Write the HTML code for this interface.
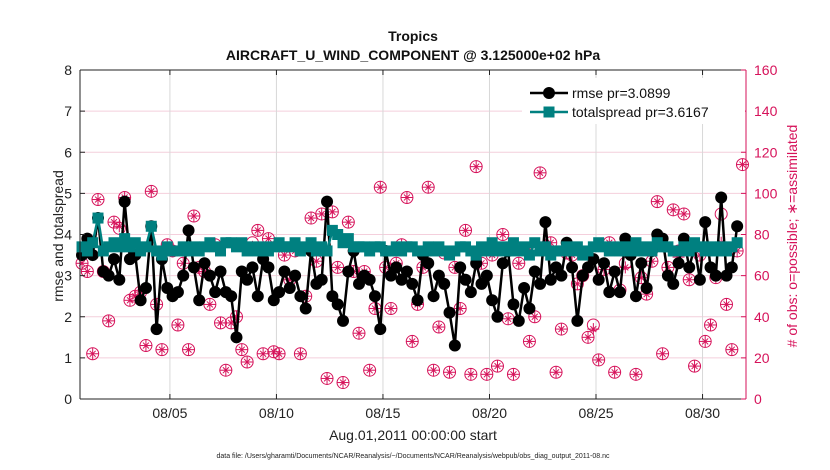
<!DOCTYPE html>
<html><head><meta charset="utf-8">
<style>
body{margin:0;background:#fff;font-family:"Liberation Sans",sans-serif;}
svg{display:block}
</style></head>
<body>
<svg id="chart" width="830" height="470" xmlns="http://www.w3.org/2000/svg"></svg>
<script>
const rmse=[3.5,3.9,3.5,4.4,3.1,3.0,3.4,2.9,4.8,3.4,3.5,2.4,2.7,4.2,1.7,3.4,2.7,2.5,2.6,3.0,4.1,3.2,2.4,3.3,3.0,2.6,3.1,2.6,2.5,1.5,3.1,2.9,3.2,2.5,3.4,3.2,2.4,2.6,3.1,2.7,3.0,2.5,2.2,3.6,2.8,2.9,4.8,2.5,2.3,1.9,3.1,3.6,2.8,3.0,2.9,2.5,1.7,3.6,3.0,3.2,2.9,3.1,2.8,2.4,3.5,3.3,2.5,3.0,2.8,2.1,1.3,3.2,2.9,2.6,3.3,2.8,3.0,2.4,2.0,3.3,3.6,2.3,1.9,2.7,2.2,3.1,2.8,4.3,2.9,3.2,3.0,3.8,3.2,1.9,3.0,3.2,3.4,2.9,3.3,2.6,3.1,2.6,3.9,3.5,2.5,3.3,2.7,3.6,4.0,3.9,3.0,2.8,3.3,3.9,3.2,3.7,2.9,4.3,3.2,3.0,4.9,3.0,3.2,4.2];
const spread=[3.7,3.6,3.8,4.4,3.6,3.7,3.8,3.7,3.9,3.7,3.8,3.6,3.7,4.2,3.6,3.5,3.7,3.6,3.6,3.7,3.6,3.7,3.6,3.7,3.8,3.7,3.6,3.8,3.8,3.7,3.8,3.6,3.7,3.6,3.7,3.6,3.7,3.8,3.7,3.7,3.8,3.6,3.7,3.8,3.6,3.7,3.6,4.1,4.0,3.8,3.9,3.7,3.7,3.7,3.6,3.7,3.7,3.6,3.6,3.7,3.6,3.7,3.7,3.6,3.6,3.7,3.6,3.7,3.6,3.5,3.6,3.7,3.7,3.6,3.5,3.7,3.6,3.8,3.6,3.7,3.6,3.8,3.6,3.7,3.5,3.8,3.6,3.7,3.5,3.6,3.6,3.7,3.6,3.7,3.5,3.6,3.7,3.8,3.7,3.6,3.7,3.6,3.7,3.6,3.8,3.6,3.7,3.6,3.8,3.7,3.7,3.6,3.6,3.7,3.6,3.8,3.7,3.6,3.7,3.6,3.7,3.6,3.7,3.8];
const obsPossible=[66,62,22,97,62,38,86,83,98,48,50,52,26,101,46,24,75,72,36,66,24,89,64,62,46,75,37,14,37,40,24,18,76,82,22,78,23,22,70,58,72,22,50,88,67,90,10,91,64,8,86,62,32,62,14,44,103,64,44,66,75,98,28,46,64,103,14,35,71,13,64,44,82,12,113,66,12,70,16,80,39,12,66,73,28,40,110,74,76,13,34,71,70,56,60,30,36,19,63,76,13,53,66,74,12,59,51,67,96,22,64,92,72,90,58,16,70,28,36,59,90,46,24,72,114];
const obsAssim=[66,62,22,97,62,38,86,84,98,48,50,52,26,101,46,24,75,72,36,66,24,89,64,62,46,75,37,14,37,40,24,18,74,82,22,78,23,22,70,58,72,22,50,88,67,90,10,91,64,8,86,62,32,62,14,44,103,64,44,66,75,98,28,46,64,103,14,35,71,13,64,44,82,12,113,66,12,70,16,80,39,12,66,73,28,40,110,74,76,13,34,71,70,56,60,30,34,19,63,76,13,53,64,74,12,59,51,67,96,22,64,92,69,90,58,16,70,28,36,59,76,46,24,72,114];
const leftTicks=[0,1,2,3,4,5,6,7,8];
const rightTicks=[0,20,40,60,80,100,120,140,160];
const dateTicks=[5,10,15,20,25,30];
const dateLabels=["08/05","08/10","08/15","08/20","08/25","08/30"];
const t0=0.875, dt=0.25;

const NS="http://www.w3.org/2000/svg";
const svg=document.getElementById('chart');
const L=80,R=746,T=70,B=399;
const xS=d=>L+(d-0.78)/(32.04-0.78)*(R-L);
const yS=v=>B-v/8*(B-T);
const yR=v=>B-v/160*(B-T);
const MAG="#d6125a";
function el(tag,attrs,parent){const e=document.createElementNS(NS,tag);for(const k in attrs)e.setAttribute(k,attrs[k]);(parent||svg).appendChild(e);return e;}
function txt(s,attrs,parent){const e=el('text',attrs,parent);e.textContent=s;return e;}

const bg=el('rect',{x:L,y:T,width:R-L,height:B-T,fill:'#fff'});


leftTicks.forEach(v=>{if(v>0&&v<8){const g=el('line',{x1:L,x2:R,y1:yS(v),y2:yS(v),stroke:'#f4cfdc','stroke-width':1});

}});
dateTicks.forEach(d=>{const g=el('line',{x1:xS(d),x2:xS(d),y1:T,y2:B,stroke:'#d8d8d8','stroke-width':1});

});

const obsG=el('g',{});


obsPossible.forEach((v,i)=>{const x=xS(t0+i*dt),y=yR(v);
const c=el('circle',{cx:x,cy:y,r:6,fill:'none',stroke:MAG,'stroke-width':1},obsG);

});
obsAssim.forEach((v,i)=>{const x=xS(t0+i*dt),y=yR(v);
const g=el('g',{stroke:MAG,'stroke-width':1},obsG);


[[0,6],[90,6],[45,4.2],[135,4.2]].forEach(([a,r])=>{const rad=a*Math.PI/180;el('line',{x1:x-r*Math.cos(rad),y1:y-r*Math.sin(rad),x2:x+r*Math.cos(rad),y2:y+r*Math.sin(rad)},g);});});

const rp=el('polyline',{points:rmse.map((v,i)=>xS(t0+i*dt)+','+yS(v)).join(' '),fill:'none',stroke:'#000','stroke-width':2.5});


rmse.forEach((v,i)=>{const c=el('circle',{cx:xS(t0+i*dt),cy:yS(v),r:6,fill:'#000'});

});
const sp=el('polyline',{points:spread.map((v,i)=>xS(t0+i*dt)+','+yS(v)).join(' '),fill:'none',stroke:'#008080','stroke-width':2.5});


spread.forEach((v,i)=>{const r=el('rect',{x:xS(t0+i*dt)-5.5,y:yS(v)-5.5,width:11,height:11,fill:'#008080'});

});

el('line',{x1:L,x2:R,y1:T,y2:T,stroke:'#222','stroke-width':1});
el('line',{x1:L,x2:R,y1:B,y2:B,stroke:'#222','stroke-width':1});
const la=el('line',{x1:L,x2:L,y1:T,y2:B,stroke:'#222','stroke-width':1});


const ra=el('line',{x1:R,x2:R,y1:T,y2:B,stroke:MAG,'stroke-width':1});


leftTicks.forEach(v=>{el('line',{x1:L,x2:L+5,y1:yS(v),y2:yS(v),stroke:'#222'});
const t=txt(String(v),{x:L-8,y:yS(v)+5,'font-size':14,'text-anchor':'end',fill:'#222'});

});
rightTicks.forEach(v=>{el('line',{x1:R-5,x2:R,y1:yR(v),y2:yR(v),stroke:MAG});
const t=txt(String(v),{x:R+8,y:yR(v)+5,'font-size':14,fill:MAG});

});
dateTicks.forEach((d,i)=>{el('line',{x1:xS(d),x2:xS(d),y1:B,y2:B-5,stroke:'#222'});el('line',{x1:xS(d),x2:xS(d),y1:T,y2:T+5,stroke:'#222'});
const t=txt(dateLabels[i],{x:xS(d),y:B+19,'font-size':14,'text-anchor':'middle',fill:'#222'});

});

const lg=el('g',{});


el('rect',{x:522,y:78,width:223,height:46,fill:'#fff'},lg);
el('line',{x1:530,x2:568,y1:93,y2:93,stroke:'#000','stroke-width':2.5},lg);
el('circle',{cx:549,cy:93,r:6,fill:'#000'},lg);
txt('rmse pr=3.0899',{x:572,y:98,'font-size':14,fill:'#111'},lg);
el('line',{x1:530,x2:568,y1:112,y2:112,stroke:'#008080','stroke-width':2.5},lg);
el('rect',{x:543.5,y:106.5,width:11,height:11,fill:'#008080'},lg);
txt('totalspread pr=3.6167',{x:572,y:117,'font-size':14,fill:'#111'},lg);

const t1=txt('Tropics',{x:413,y:41,'font-size':14,'font-weight':'bold','text-anchor':'middle',fill:'#111'});


const t2=txt('AIRCRAFT_U_WIND_COMPONENT @ 3.125000e+02 hPa',{x:413,y:60,'font-size':14,'font-weight':'bold','text-anchor':'middle',fill:'#111'});


const yl=txt('rmse and totalspread',{x:0,y:0,'font-size':14,'text-anchor':'middle',fill:'#222',transform:'translate(63,236) rotate(-90)'});


const yr=txt('# of obs: o=possible; \u2217=assimilated',{x:0,y:0,'font-size':14,'text-anchor':'middle',fill:MAG,transform:'translate(797,236) rotate(-90)'});


const xl=txt('Aug.01,2011 00:00:00 start',{x:413,y:440,'font-size':14,'text-anchor':'middle',fill:'#222'});


const ft=txt('data file: /Users/gharamti/Documents/NCAR/Reanalysis/~/Documents/NCAR/Reanalysis/webpub/obs_diag_output_2011-08.nc',{x:413,y:458,'font-size':7,'text-anchor':'middle',fill:'#222'});


</script>
</body></html>
